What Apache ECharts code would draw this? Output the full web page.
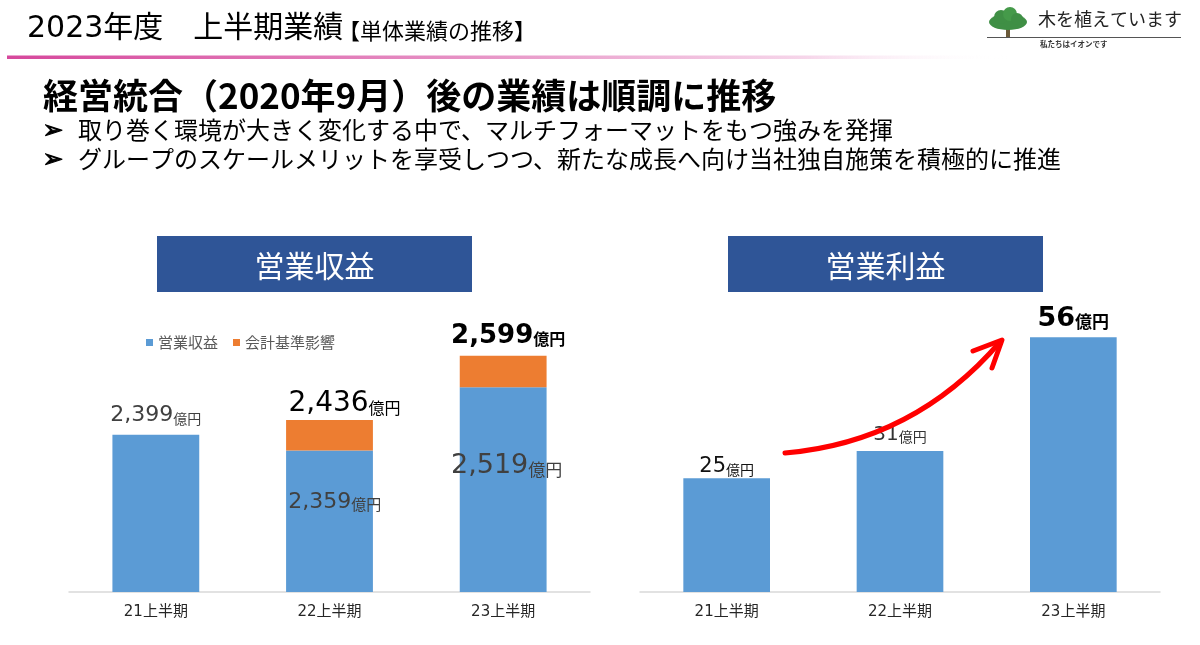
<!DOCTYPE html>
<html lang="ja" style="height: 100%">
<head>
<meta charset="utf-8">
<style>
  body { margin: 0; height: 100%; background: #fff; }
  #container { width: 1200px; height: 645px; }
</style>
</head>
<body>
<div id="container"></div>
<script src="https://cdn.jsdelivr.net/npm/echarts@6/dist/echarts.min.js"></script>
<script>
// 営業収益（左）
var periods = ['21上半期', '22上半期', '23上半期'];
var revenue = [2399, 2359, 2519];          // 営業収益
var accountingEffect = [0, 77, 80];        // 会計基準影響
// 営業利益（右）
var profit = [25, 31, 56];

var JP = '"Noto Sans CJK JP", "Noto Sans", sans-serif';
var NUM = '"DejaVu Sans", "Noto Sans CJK JP", sans-serif';

function fmt(v) {
  return v.toLocaleString('en-US');
}

// 数字＋億円のリッチテキスト
function richLabel(numSize, unitSize, color, bold) {
  var w = bold ? 'bold' : 'normal';
  return {
    n: { fontFamily: NUM, fontSize: numSize, color: color, fontWeight: w, verticalAlign: 'bottom', lineHeight: numSize * 1.15 },
    u: { fontFamily: JP, fontSize: unitSize, color: color, fontWeight: w, verticalAlign: 'bottom', lineHeight: numSize * 1.15, padding: [0, 0, Math.round(numSize * 0.06), 0] }
  };
}

// 左：営業収益の系列データ
var revenueData = revenue.map(function (v, i) {
  var item = { value: v, label: { show: false } };
  if (i === 0) {
    item.label = { show: true, position: 'top', distance: 8, rich: richLabel(22, 14, '#404040', false) };
  } else if (i === 1) {
    item.label = { show: true, position: ['56%', 50], align: 'center', verticalAlign: 'middle', rich: richLabel(22, 15, '#404040', false) };
  } else {
    item.label = { show: true, position: ['54%', 77], align: 'center', verticalAlign: 'middle', rich: richLabel(27, 17, '#404040', false) };
  }
  return item;
});

var effectData = accountingEffect.map(function (v, i) {
  var item = { value: v, label: { show: false } };
  if (i === 1) {
    item.label = { show: true, position: 'top', distance: 2, offset: [15, 0], rich: richLabel(28, 16, '#000', false) };
  } else if (i === 2) {
    item.label = { show: true, position: 'top', distance: 7, offset: [5, 0], rich: richLabel(26, 16, '#000', true) };
  }
  return item;
});

var profitStyles = [
  { d: 1, s: richLabel(21, 14, '#111', false) },
  { d: 6, s: richLabel(20, 14, '#333', false) },
  { d: 5, s: richLabel(27, 17, '#000', true) }
];
var profitData = profit.map(function (v, i) {
  return { value: v, label: { show: true, position: 'top', distance: profitStyles[i].d, rich: profitStyles[i].s } };
});

var chart = echarts.init(document.getElementById('container'));

var axisLabelStyle = { color: '#262626', fontSize: 15, margin: 13, fontFamily: NUM };

var option = {
  animation: false,
  textStyle: { fontFamily: JP },
  legend: {
    left: 141,
    top: 330,
    icon: 'rect',
    itemWidth: 7,
    itemHeight: 7,
    itemGap: 15,
    textStyle: { fontSize: 15, color: '#595959', fontFamily: JP },
    data: ['営業収益', '会計基準影響']
  },
  grid: [
    { left: 69, right: 610, top: 316, bottom: 53 },
    { left: 640, right: 40, top: 319, bottom: 53 }
  ],
  xAxis: [
    {
      type: 'category', gridIndex: 0, data: periods,
      axisLine: { lineStyle: { color: '#d9d9d9', width: 1.5 } },
      axisTick: { show: false },
      axisLabel: axisLabelStyle
    },
    {
      type: 'category', gridIndex: 1, data: periods,
      axisLine: { lineStyle: { color: '#d9d9d9', width: 1.5 } },
      axisTick: { show: false },
      axisLabel: axisLabelStyle
    }
  ],
  yAxis: [
    { type: 'value', gridIndex: 0, min: 2000, max: 2700, show: false, splitLine: { show: false } },
    { type: 'value', gridIndex: 1, min: 0, max: 60, show: false, splitLine: { show: false } }
  ],
  series: [
    {
      name: '営業収益', type: 'bar', stack: 'rev', xAxisIndex: 0, yAxisIndex: 0,
      barWidth: '50%', itemStyle: { color: '#5B9BD5' },
      label: { formatter: function (p) { return '{n|' + fmt(p.value) + '}{u|億円}'; } },
      data: revenueData
    },
    {
      name: '会計基準影響', type: 'bar', stack: 'rev', xAxisIndex: 0, yAxisIndex: 0,
      barWidth: '50%', itemStyle: { color: '#ED7D31' },
      label: {
        formatter: function (p) {
          return '{n|' + fmt(revenue[p.dataIndex] + accountingEffect[p.dataIndex]) + '}{u|億円}';
        }
      },
      data: effectData
    },
    {
      name: '営業利益', type: 'bar', xAxisIndex: 1, yAxisIndex: 1,
      barWidth: '50%', itemStyle: { color: '#5B9BD5' },
      label: { formatter: function (p) { return '{n|' + p.value + '}{u|億円}'; } },
      data: profitData
    }
  ],
  graphic: [
    // ヘッダー
    { type: 'text', left: 27, top: 14, style: { text: '2023年度　上半期業績', font: '30px ' + NUM, fill: '#000' } },
    { type: 'text', left: 338, top: 20, style: { text: '【単体業績の推移】', font: '22px ' + JP, fill: '#000' } },
    {
      type: 'rect', shape: { x: 7, y: 55.5, width: 1000, height: 3.5 },
      style: {
        fill: new echarts.graphic.LinearGradient(0, 0, 1, 0, [
          { offset: 0, color: '#D6489C' },
          { offset: 0.45, color: '#E690C4' },
          { offset: 0.8, color: '#F6D6EA' },
          { offset: 1, color: 'rgba(255,255,255,0)' }
        ])
      }
    },
    // ロゴ
    { type: 'rect', shape: { x: 1006, y: 26, width: 4, height: 11 }, style: { fill: '#6b5a3a' } },
    { type: 'ellipse', shape: { cx: 1008, cy: 22, rx: 19, ry: 8 }, style: { fill: '#3f8f45' } },
    { type: 'circle', shape: { cx: 1001, cy: 17, r: 7 }, style: { fill: '#3f8f45' } },
    { type: 'circle', shape: { cx: 1010, cy: 14, r: 7 }, style: { fill: '#459a4a' } },
    { type: 'circle', shape: { cx: 1017, cy: 19, r: 6 }, style: { fill: '#3f8f45' } },
    { type: 'text', left: 1038, top: 10, style: { text: '木を植えています', font: '18px ' + JP, fill: '#222' } },
    { type: 'line', shape: { x1: 987, y1: 37.5, x2: 1181, y2: 37.5 }, style: { stroke: '#555', lineWidth: 1 } },
    { type: 'text', left: 1040, top: 40, style: { text: '私たちはイオンです', font: 'bold 7.5px ' + JP, fill: '#333' } },
    // 見出し
    { type: 'text', left: 43, top: 78, style: { text: '経営統合（2020年9月）後の業績は順調に推移', font: 'bold 35px ' + JP, fill: '#000' } },
    { type: 'text', left: 42, top: 118, style: { text: '➢', font: '25px "DejaVu Sans"', fill: '#000', stroke: '#000', lineWidth: 1 } },
    { type: 'text', left: 78, top: 118, style: { text: '取り巻く環境が大きく変化する中で、マルチフォーマットをもつ強みを発揮', font: '24px ' + JP, fill: '#000' } },
    { type: 'text', left: 42, top: 147, style: { text: '➢', font: '25px "DejaVu Sans"', fill: '#000', stroke: '#000', lineWidth: 1 } },
    { type: 'text', left: 78, top: 147, style: { text: 'グループのスケールメリットを享受しつつ、新たな成長へ向け当社独自施策を積極的に推進', font: '24px ' + JP, fill: '#000' } },
    // タイトル枠
    { type: 'rect', shape: { x: 157, y: 236, width: 315, height: 56 }, style: { fill: '#2F5597' } },
    { type: 'text', x: 314.5, y: 266, style: { text: '営業収益', font: '30px ' + JP, fill: '#fff', align: 'center', verticalAlign: 'middle' } },
    { type: 'rect', shape: { x: 728, y: 236, width: 315, height: 56 }, style: { fill: '#2F5597' } },
    { type: 'text', x: 885.5, y: 266, style: { text: '営業利益', font: '30px ' + JP, fill: '#fff', align: 'center', verticalAlign: 'middle' } },
    // 赤い矢印
    {
      type: 'bezierCurve', z: 10,
      shape: { x1: 785, y1: 453, cpx1: 880, cpy1: 445, cpx2: 950, cpy2: 400, x2: 1000, y2: 342 },
      style: { stroke: '#FF0000', lineWidth: 5, fill: null, lineCap: 'round' }
    },
    {
      type: 'polyline', z: 10,
      shape: { points: [[973, 351], [1002, 340], [992, 368]] },
      style: { stroke: '#FF0000', lineWidth: 5, fill: null, lineCap: 'round', lineJoin: 'round' }
    }
  ]
};

chart.setOption(option);
window.addEventListener('resize', chart.resize);
</script>
</body>
</html>
